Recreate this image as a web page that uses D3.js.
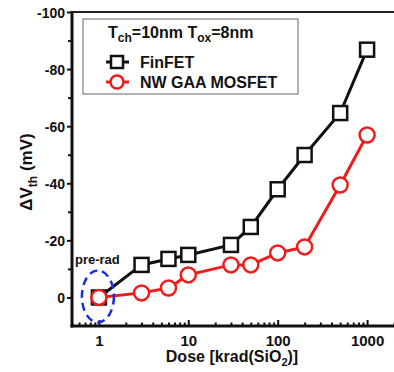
<!DOCTYPE html>
<html><head><meta charset="utf-8">
<script src="https://cdn.jsdelivr.net/npm/d3@7"></script>
<style>
body{margin:0;background:#fff}
svg{display:block}
text{font-family:"Liberation Sans",Arial,sans-serif;font-weight:bold;fill:#111}
</style>
</head><body><svg id="c" width="394" height="372"></svg>
<script>
// ---- data ----
const doses = [1, 3, 6, 10, 30, 50, 100, 200, 500, 1000];
const finfet = [0, -11.4, -13.5, -14.9, -18.4, -24.7, -37.9, -49.9, -64.6, -86.8];
const nwgaa = [0, -1.6, -3.3, -7.9, -11.4, -11.4, -15.6, -17.7, -39.4, -56.9];
const seriesNames = ["FinFET", "NW GAA MOSFET"];
const xMajorTicks = [1, 10, 100, 1000];
const xMinorTicks = [0.5,0.6,0.7,0.8,0.9,2,3,4,5,6,7,8,9,20,30,40,50,60,70,80,90,200,300,400,500,600,700,800,900,2000];
const yMajorTicks = [0, -20, -40, -60, -80, -100];
const yMinorTicks = [-10, -30, -50, -70, -90];

const svg = d3.select("#c");
const L = 72, R = 394, T = 12, B = 326;
const x = d3.scaleLog().domain([0.5, 2000]).range([L, R]);
const y = d3.scaleLinear().domain([10, -100]).range([B, T]);

// top border
svg.append("line").attr("x1", L).attr("x2", R).attr("y1", T).attr("y2", T)
  .attr("stroke", "#222").attr("stroke-width", 2);

// y axis
const yAxisMajor = svg.append("g").attr("transform", `translate(${L},0)`)
  .call(d3.axisLeft(y).tickValues(yMajorTicks).tickSize(5).tickPadding(2).tickFormat(d => String(d)));
const yAxisMinor = svg.append("g").attr("transform", `translate(${L},0)`)
  .call(d3.axisLeft(y).tickValues(yMinorTicks).tickSize(4).tickFormat(""));
[yAxisMajor, yAxisMinor].forEach(g => {
  g.select(".domain").remove();
  g.selectAll(".tick line").attr("stroke", "#111").attr("stroke-width", 2);
});
yAxisMajor.selectAll(".tick text").style("font-size", "14px").attr("fill", "#111").attr("dy", "0.36em");
svg.append("line").attr("x1", L).attr("x2", L).attr("y1", T - 1).attr("y2", B + 1.5)
  .attr("stroke", "#111").attr("stroke-width", 3);

// x axis
const xAxisMajor = svg.append("g").attr("transform", `translate(0,${B})`)
  .call(d3.axisBottom(x).tickValues(xMajorTicks).tickSizeInner(-6).tickSizeOuter(0).tickPadding(9).tickFormat(d => String(d)));
const xAxisMinor = svg.append("g").attr("transform", `translate(0,${B})`)
  .call(d3.axisBottom(x).tickValues(xMinorTicks).tickSizeInner(-3.5).tickSizeOuter(0).tickFormat(""));
[xAxisMajor, xAxisMinor].forEach(g => {
  g.select(".domain").remove();
  g.selectAll(".tick line").attr("stroke", "#111").attr("stroke-width", 2);
});
xAxisMajor.selectAll(".tick text").style("font-size", "15px").attr("fill", "#111");
svg.append("line").attr("x1", L - 1.5).attr("x2", R).attr("y1", B).attr("y2", B)
  .attr("stroke", "#111").attr("stroke-width", 3);

// axis titles
svg.append("text").attr("x", 232).attr("y", 362).attr("text-anchor", "middle")
  .style("font-size", "16px")
  .html('Dose [krad(SiO<tspan dy="4" style="font-size:11px">2</tspan><tspan dy="-4">)]</tspan>');
svg.append("text").attr("transform", "translate(32,172) rotate(-90)").attr("text-anchor", "middle")
  .style("font-size", "17px")
  .html('ΔV<tspan dy="5" style="font-size:12px">th</tspan><tspan dy="-5"> (mV)</tspan>');

// series
const line = d3.line().x(d => x(d[0])).y(d => y(d[1]));
const ff = doses.map((d, i) => [d, finfet[i]]);
const nw = doses.map((d, i) => [d, nwgaa[i]]);
const black = "#111", red = "#ee1c1c";

svg.append("path").datum(ff).attr("d", line).attr("fill", "none").attr("stroke", black).attr("stroke-width", 3);
svg.selectAll(".sq").data(ff).join("rect")
  .attr("x", d => x(d[0]) - 7).attr("y", d => y(d[1]) - 7).attr("width", 14).attr("height", 14)
  .attr("fill", "#fff").attr("stroke", black).attr("stroke-width", 2.5);

svg.append("path").datum(nw).attr("d", line).attr("fill", "none").attr("stroke", red).attr("stroke-width", 3);
svg.selectAll(".ci").data(nw).join("circle")
  .attr("cx", d => x(d[0])).attr("cy", d => y(d[1])).attr("r", 7.5)
  .attr("fill", "#fff").attr("stroke", red).attr("stroke-width", 2.5);

// pre-rad annotation
svg.append("ellipse").attr("cx", x(1) - 1).attr("cy", y(0) - 1).attr("rx", 16).attr("ry", 26)
  .attr("fill", "none").attr("stroke", "#1a2ee6").attr("stroke-width", 2.5).attr("stroke-dasharray", "8,5");
svg.append("text").attr("x", 75).attr("y", 264).style("font-size", "13px").text("pre-rad");

// legend
svg.append("rect").attr("x", 83).attr("y", 19).attr("width", 215).attr("height", 75)
  .attr("fill", "#fff").attr("stroke", "#666").attr("stroke-width", 1);
svg.append("text").attr("x", 108).attr("y", 38).style("font-size", "16px")
  .html('T<tspan dy="4" style="font-size:12px">ch</tspan><tspan dy="-4">=10nm T</tspan><tspan dy="4" style="font-size:12px">ox</tspan><tspan dy="-4">=8nm</tspan>');
const lg = [
  {name: seriesNames[0], color: black, cy: 62, shape: "sq"},
  {name: seriesNames[1], color: red, cy: 82, shape: "ci"}
];
lg.forEach(s => {
  svg.append("line").attr("x1", 106).attr("x2", 129).attr("y1", s.cy).attr("y2", s.cy)
    .attr("stroke", s.color).attr("stroke-width", 3);
  if (s.shape === "sq") {
    svg.append("rect").attr("x", 111).attr("y", s.cy - 6).attr("width", 12).attr("height", 12)
      .attr("fill", "#fff").attr("stroke", s.color).attr("stroke-width", 2.5);
  } else {
    svg.append("circle").attr("cx", 117).attr("cy", s.cy).attr("r", 6.5)
      .attr("fill", "#fff").attr("stroke", s.color).attr("stroke-width", 2.5);
  }
  svg.append("text").attr("x", 140).attr("y", s.cy + 6).style("font-size", "16px").text(s.name);
});
</script>
</body></html>
